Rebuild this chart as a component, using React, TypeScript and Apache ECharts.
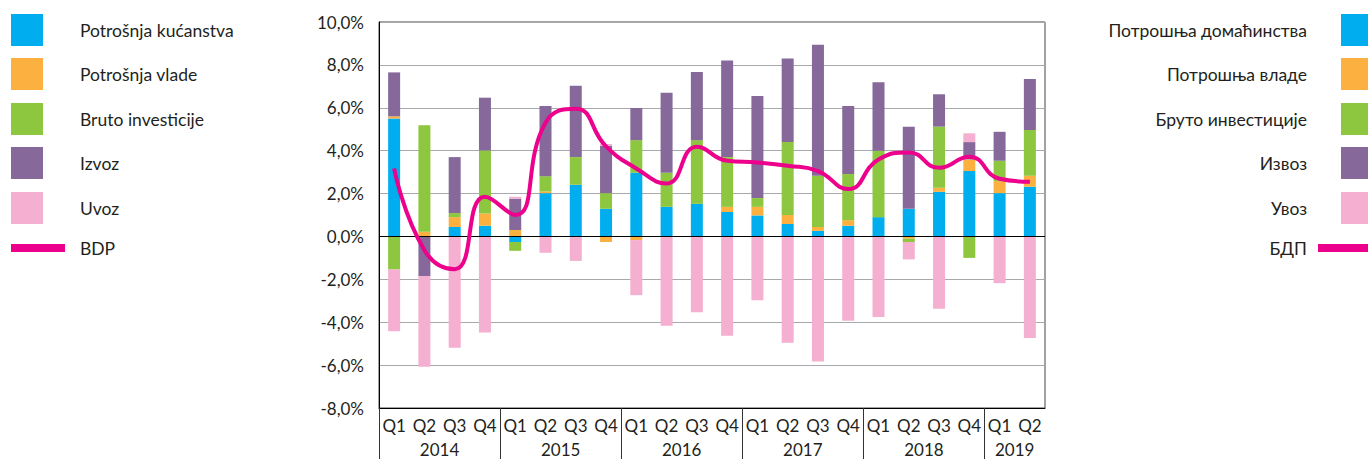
import React, { useEffect, useRef } from "react";
import * as echarts from "echarts";

const quarters = [
  "Q1", "Q2", "Q3", "Q4",
  "Q1", "Q2", "Q3", "Q4",
  "Q1", "Q2", "Q3", "Q4",
  "Q1", "Q2", "Q3", "Q4",
  "Q1", "Q2", "Q3", "Q4",
  "Q1", "Q2",
];
const years = ["2014", "2015", "2016", "2017", "2018", "2019"];
const quartersPerYear = [4, 4, 4, 4, 4, 2];

const yTicks = { min: -8, max: 10, interval: 2 };

const namesLatin = ["Potrošnja kućanstva", "Potrošnja vlade", "Bruto investicije", "Izvoz", "Uvoz", "BDP"];
const namesCyrillic = ["Потрошња домаћинства", "Потрошња владе", "Бруто инвестиције", "Извоз", "Увоз", "БДП"];

const household = [5.5, 0, 0.44, 0.5, -0.26, 2.02, 2.41, 1.29, 2.97, 1.38, 1.52, 1.14, 0.98, 0.58, 0.26, 0.5, 0.9, 1.29, 2.08, 3.05, 2.02, 2.32];
const government = [0.1, 0.22, 0.46, 0.57, 0.3, 0.08, 0, -0.26, -0.17, 0, 0, 0.24, 0.4, 0.42, 0.18, 0.26, 0, -0.1, 0.19, 0.54, 0.56, 0.51];
const investment = [-1.54, 4.97, 0.19, 2.94, -0.41, 0.71, 1.29, 0.73, 1.52, 1.59, 2.97, 2.32, 0.41, 3.4, 2.39, 2.15, 3.1, -0.16, 2.85, -1.0, 0.95, 2.13];
const exportsData = [2.05, -1.85, 2.61, 2.46, 1.46, 3.27, 3.33, 2.21, 1.5, 3.73, 3.18, 4.51, 4.76, 3.9, 6.11, 3.17, 3.19, 3.83, 1.51, 0.81, 1.35, 2.38];
const importsData = [-2.88, -4.23, -5.19, -4.48, 0.09, -0.76, -1.14, 0.08, -2.57, -4.17, -3.53, -4.63, -2.97, -4.96, -5.83, -3.93, -3.76, -0.81, -3.37, 0.41, -2.18, -4.73];
const gdp = [3.17, -0.64, -1.53, 1.85, 1.0, 5.3, 5.95, 4.2, 3.17, 2.47, 4.18, 3.53, 3.45, 3.3, 3.05, 2.21, 3.59, 3.92, 3.2, 3.72, 2.69, 2.55];

const colors = ["#00AEEF", "#FBB040", "#8DC63F", "#86699A", "#F5AFD0", "#EC008C"];

const TEXT = "#231F20";
const FONT = "Lato";
const AXIS_FS = 17;
const LEGEND_FS = 17.5;

export default function App() {
  const ref = useRef<HTMLDivElement>(null);

  useEffect(() => {
    if (!ref.current) return;
    const chart = echarts.init(ref.current, undefined, { renderer: "svg" });

    const total = quarters.length;
    const yearCenters: number[] = [];
    const yearBounds: number[] = [];
    let acc = 0;
    quartersPerYear.forEach((n) => {
      yearBounds.push(acc);
      yearCenters.push(acc + n / 2);
      acc += n;
    });
    const yearAt: Record<string, string> = {};
    yearCenters.forEach((c, i) => (yearAt[String(c)] = years[i]));

    const barData = [household, government, investment, exportsData, importsData];

    const series: any[] = barData.map((d, i) => ({
      name: namesLatin[i],
      type: "bar",
      stack: "total",
      barWidth: 12,
      data: d,
      itemStyle: { color: colors[i] },
      xAxisIndex: 0,
      yAxisIndex: 0,
    }));
    series.push({
      name: namesLatin[5],
      type: "line",
      data: gdp,
      smooth: 0.5,
      symbol: "none",
      lineStyle: { color: colors[5], width: 4 },
      itemStyle: { color: colors[5] },
      z: 5,
      markLine: {
        silent: true,
        symbol: "none",
        label: { show: false },
        lineStyle: { color: "#000", width: 1, type: "solid" },
        data: [{ yAxis: 0 }],
        z: 4,
      },
    });

    const legendRowY = [14, 58, 103, 147, 192];
    const graphic: any[] = [];
    const font = `${LEGEND_FS}px ${FONT}`;
    for (let i = 0; i < 5; i++) {
      graphic.push({ type: "rect", shape: { x: 11, y: legendRowY[i], width: 32, height: 32 }, style: { fill: colors[i] } });
      graphic.push({
        type: "text", x: 80, y: legendRowY[i] + 16,
        style: { text: namesLatin[i], fill: TEXT, font, textVerticalAlign: "middle", textAlign: "left" },
      });
      graphic.push({ type: "rect", shape: { x: 1341, y: legendRowY[i], width: 32, height: 32 }, style: { fill: colors[i] } });
      graphic.push({
        type: "text", x: 1307, y: legendRowY[i] + 16,
        style: { text: namesCyrillic[i], fill: TEXT, font, textVerticalAlign: "middle", textAlign: "right" },
      });
    }
    graphic.push({ type: "rect", shape: { x: 11, y: 244, width: 54, height: 8 }, style: { fill: colors[5] } });
    graphic.push({
      type: "text", x: 80, y: 248,
      style: { text: namesLatin[5], fill: TEXT, font, textVerticalAlign: "middle", textAlign: "left" },
    });
    graphic.push({ type: "rect", shape: { x: 1318, y: 244, width: 54, height: 8 }, style: { fill: colors[5] } });
    graphic.push({
      type: "text", x: 1307, y: 248,
      style: { text: namesCyrillic[5], fill: TEXT, font, textVerticalAlign: "middle", textAlign: "right" },
    });

    chart.setOption({
      animation: false,
      textStyle: { fontFamily: FONT },
      grid: {
        left: 379, right: 323, top: 22, bottom: 51,
        show: true, borderColor: "#444", borderWidth: 1,
      },
      xAxis: [
        {
          type: "category",
          data: quarters,
          position: "bottom",
          axisLine: { onZero: false, lineStyle: { color: "#000", width: 1 } },
          axisTick: { show: false },
          axisLabel: { interval: 0, color: TEXT, fontSize: AXIS_FS, fontFamily: FONT, margin: 9 },
          splitLine: { show: false },
        },
        {
          type: "value",
          min: 0,
          max: total,
          position: "bottom",
          axisLine: { show: false, onZero: false },
          splitLine: { show: false },
          axisTick: {
            show: true,
            customValues: yearBounds,
            length: 52,
            lineStyle: { color: "#333", width: 1 },
          },
          axisLabel: {
            show: true,
            customValues: yearCenters,
            formatter: (v: number) => yearAt[String(v)] || "",
            color: TEXT,
            fontSize: AXIS_FS,
            fontFamily: FONT,
            margin: 33,
          },
        },
      ],
      yAxis: {
        type: "value",
        min: yTicks.min,
        max: yTicks.max,
        interval: yTicks.interval,
        axisLine: { show: true, lineStyle: { color: "#000", width: 1 } },
        axisTick: { show: false },
        splitLine: { show: true, lineStyle: { color: "#A7A9AC", width: 1 } },
        axisLabel: {
          color: TEXT,
          fontSize: AXIS_FS,
          fontFamily: FONT,
          margin: 15,
          formatter: (v: number) => v.toFixed(1).replace(".", ",") + "%",
        },
      },
      series,
      graphic,
    });

    return () => chart.dispose();
  }, []);

  return <div ref={ref} style={{ width: 1368, height: 459, position: "absolute", left: 0, top: 0 }} />;
}
